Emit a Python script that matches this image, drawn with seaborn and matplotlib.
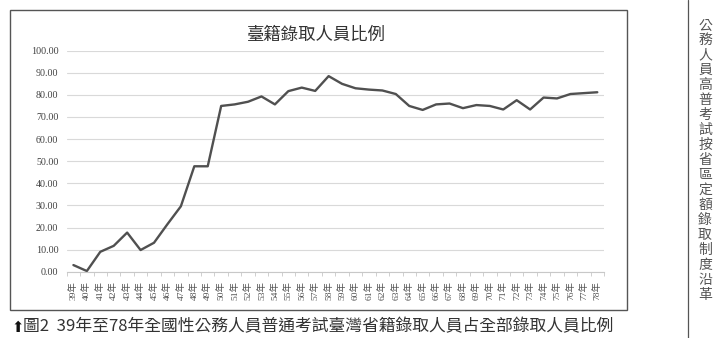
import matplotlib
matplotlib.use("Agg")
import matplotlib.pyplot as plt
import seaborn as sns
import pandas as pd
from matplotlib.patches import Rectangle
from matplotlib.lines import Line2D

years = [f"{y}年" for y in range(39, 79)]
ratios = [3.0, 0.3, 9.0, 11.7, 17.7, 9.8, 13.1, 21.5, 29.6, 47.7,
          47.7, 75.0, 75.7, 76.9, 79.3, 75.7, 81.7, 83.3, 81.8, 88.5,
          85.0, 83.0, 82.4, 82.0, 80.4, 75.0, 73.2, 75.7, 76.1, 74.0,
          75.4, 75.0, 73.4, 77.6, 73.4, 78.8, 78.4, 80.4, 80.8, 81.2]
yticks = [0, 10, 20, 30, 40, 50, 60, 70, 80, 90, 100]
title = "臺籍錄取人員比例"
caption = "圖2  39年至78年全國性公務人員普通考試臺灣省籍錄取人員占全部錄取人員比例"
side_text = "公務人員高普考試按省區定額錄取制度沿革"

df = pd.DataFrame({"year": years, "ratio": ratios})

sns.set_theme(style="white")
plt.rcParams['font.family'] = ['Noto Sans CJK TC', 'DejaVu Sans']

W, H = 720, 338
fig = plt.figure(figsize=(7.2, 3.38), dpi=100)

def fx(px):
    return px / W

def fy(py):
    return 1 - py / H

ax = fig.add_axes([fx(66.7), fy(271.7), fx(604) - fx(66.7), fy(50.7) - fy(271.7)])
sns.lineplot(data=df, x="year", y="ratio", ax=ax, color="#505050", linewidth=1.7, sort=False)

ax.set_xlim(-0.5, len(years) - 0.5)
ax.set_ylim(0, 100)
ax.set_yticks(yticks)
ax.set_yticklabels([f"{v:.2f}" for v in yticks], family=['Liberation Serif'], fontsize=7.2, color="#404040")
ax.set_xticks(range(len(years)))
ax.set_xticklabels(years, rotation=90, family=['Liberation Serif', 'Noto Sans CJK TC'], fontsize=6.8, color="#505050")
ax.tick_params(axis='y', length=0, pad=6)
ax.tick_params(axis='x', length=0, pad=7)
ax.set_xticks([i - 0.5 for i in range(len(years) + 1)], minor=True)
ax.tick_params(axis='x', which='minor', length=3, color="#c8c8c8", width=0.6, direction='out', bottom=True)
ax.grid(axis='y', color="#d9d9d9", linewidth=0.8)
ax.grid(axis='x', visible=False)
ax.set_axisbelow(True)
for s in ["top", "right", "left"]:
    ax.spines[s].set_visible(False)
ax.spines["bottom"].set_color("#c8c8c8")
ax.spines["bottom"].set_linewidth(0.8)
ax.set_xlabel("")
ax.set_ylabel("")

fig.patches.append(Rectangle((fx(10), fy(309.5)), fx(627) - fx(10), fy(10) - fy(309.5),
                             transform=fig.transFigure, fill=False, edgecolor="#555555", linewidth=1.0))
fig.lines.append(Line2D([fx(688), fx(688)], [0, 1], transform=fig.transFigure, color="#555555", linewidth=0.9))

fig.text(fx(316.5), fy(35), title, ha="center", va="center", fontsize=12.5, color="#333333")

fig.text(fx(11), fy(327), "⬆", ha="left", va="center", fontsize=10.5, color="#111111",
         family=['DejaVu Sans'])
fig.text(fx(23), fy(327), caption, ha="left", va="center", fontsize=12.1, color="#333333")

# vertical side title, one character per row
top_c, bot_c = 25.5, 294.5
step = (bot_c - top_c) / (len(side_text) - 1)
for i, ch in enumerate(side_text):
    fig.text(fx(705), fy(top_c + i * step), ch, ha="center", va="center", fontsize=10,
             color="#555555")

fig.savefig("out.png", dpi=100)
